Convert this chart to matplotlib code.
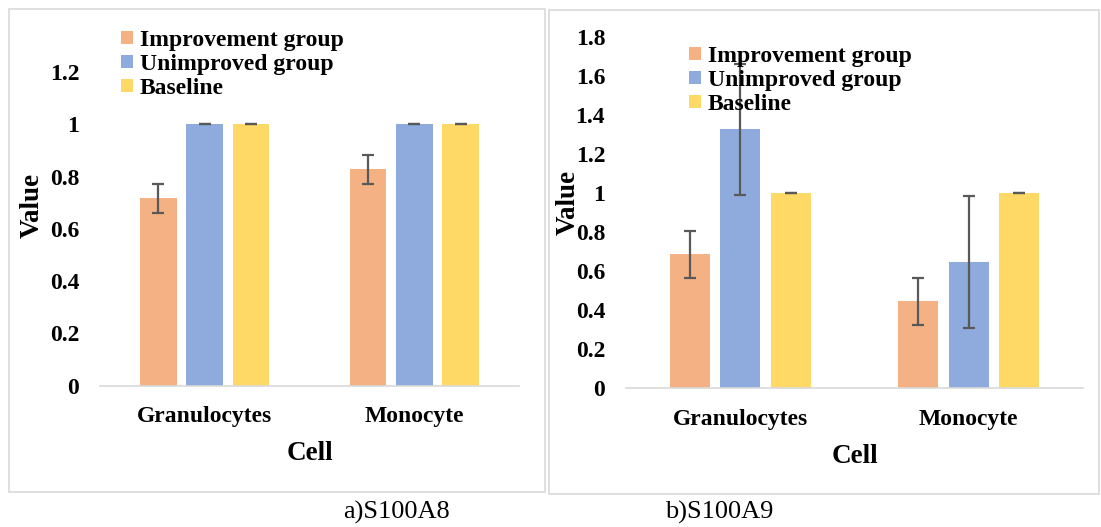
import numpy as np
import matplotlib
matplotlib.use('Agg')
import matplotlib.pyplot as plt
from matplotlib.patches import Rectangle

cells = ['Granulocytes', 'Monocyte']
groups = ['Improvement group', 'Unimproved group', 'Baseline']
colors = ['#F4B183', '#8FAADC', '#FFD966']

# a) S100A8
a_improve = [0.717, 0.828]
a_improve_err = [0.056, 0.055]
a_unimproved = [1.0, 1.0]
a_unimproved_err = [0.0, 0.0]
a_baseline = [1.0, 1.0]
a_baseline_err = [0.0, 0.0]

# b) S100A9
b_improve = [0.686, 0.445]
b_improve_err = [0.12, 0.12]
b_unimproved = [1.327, 0.646]
b_unimproved_err = [0.337, 0.338]
b_baseline = [1.0, 1.0]
b_baseline_err = [0.0, 0.0]

W, H = 1101, 527


def px(l, b, w, h):
	return [l / W, b / H, w / W, h / H]


def draw(ax, vals, errs, ymax, step, leg_anchor):
	x = np.arange(len(cells))
	bw = 0.176
	off = 0.221
	for i in range(3):
		ax.bar(x + (i - 1) * off, vals[i], bw, color=colors[i], label=groups[i],
			   yerr=errs[i], capsize=4.5, error_kw=dict(ecolor='#595959', elinewidth=1.6, capthick=1.6))
	ax.set_xlim(-0.5, 1.5)
	ax.set_ylim(0, ymax)
	ticks = np.round(np.arange(0, ymax + 0.001, step), 1)
	ax.set_yticks(ticks)
	ax.set_yticklabels(['0' if v == 0 else ('1' if v == 1 else '%.1f' % v) for v in ticks])
	ax.set_xticks(x)
	ax.set_xticklabels(cells)
	for s in ['top', 'right', 'left']:
		ax.spines[s].set_visible(False)
	ax.spines['bottom'].set_color('#D9D9D9')
	ax.spines['bottom'].set_linewidth(1.2)
	ax.tick_params(axis='both', length=0, labelsize=17)
	ax.tick_params(axis='y', pad=15)
	ax.tick_params(axis='x', pad=15)
	for t in ax.get_xticklabels() + ax.get_yticklabels():
		t.set_fontweight('bold')
	ax.legend(loc='upper left', bbox_to_anchor=leg_anchor, bbox_transform=plt.gcf().transFigure,
			  frameon=False, prop=dict(weight='bold', size=17), handlelength=0.5, handleheight=0.5,
			  handletextpad=0.3, labelspacing=0.12, borderpad=0, borderaxespad=0)


def main():
	plt.rcParams['font.family'] = ['Liberation Serif', 'DejaVu Serif']
	fig = plt.figure(figsize=(11.01, 5.27), dpi=100)

	fig.patches.append(Rectangle((9 / W, 1 - 492 / H), 536 / W, 483 / H, transform=fig.transFigure,
								 fill=False, edgecolor='#D9D9D9', linewidth=1.2))
	fig.patches.append(Rectangle((549 / W, 1 - 494 / H), 550 / W, 484 / H, transform=fig.transFigure,
								 fill=False, edgecolor='#D9D9D9', linewidth=1.2))

	ax1 = fig.add_axes(px(100, H - 385.5, 419, 385.5 - 72.2))
	draw(ax1, [a_improve, a_unimproved, a_baseline], [a_improve_err, a_unimproved_err, a_baseline_err],
		 1.2, 0.2, (121 / W, 1 - 30 / H))
	ax1.set_xlabel('Cell', fontsize=19.5, fontweight='bold', labelpad=10)
	ax1.set_ylabel('Value', fontsize=19.5, fontweight='bold')
	ax1.yaxis.set_label_coords(45 / W, 1 - 205 / H, transform=fig.transFigure)

	ax2 = fig.add_axes(px(626, H - 388.2, 457, 388.2 - 37))
	draw(ax2, [b_improve, b_unimproved, b_baseline], [b_improve_err, b_unimproved_err, b_baseline_err],
		 1.8, 0.2, (689 / W, 1 - 46 / H))
	ax2.set_xlabel('Cell', fontsize=19.5, fontweight='bold', labelpad=10)
	ax2.set_ylabel('Value', fontsize=19.5, fontweight='bold')
	ax2.yaxis.set_label_coords(581 / W, 1 - 202 / H, transform=fig.transFigure)

	fig.text(396 / W, 1 - 512 / H, 'a)S100A8', ha='center', va='center', fontsize=19)
	fig.text(719 / W, 1 - 512 / H, 'b)S100A9', ha='center', va='center', fontsize=19)

	fig.savefig('out.png', dpi=100)


if __name__ == '__main__':
	main()
